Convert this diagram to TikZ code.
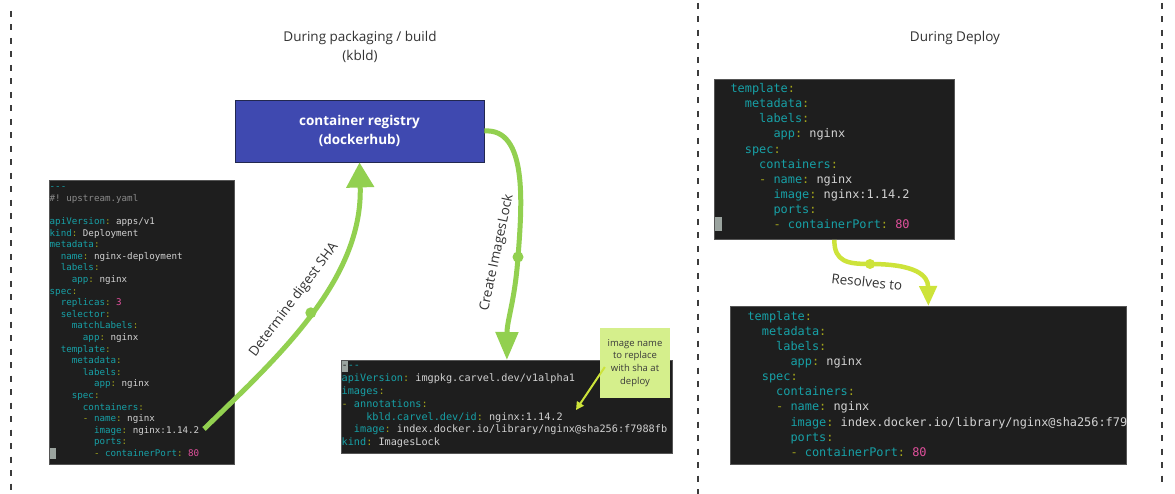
\documentclass[tikz,border=0pt]{standalone}
\usepackage{fontspec}
\setmainfont{Open Sans}
\newfontfamily\codefont{DejaVu Sans Mono}[Ligatures=TeXOff]
\usepackage{tikz}
\usetikzlibrary{arrows.meta, positioning}

\definecolor{codebg}{HTML}{1E1E1E}
\definecolor{boxedge}{HTML}{555555}
\definecolor{ykey}{HTML}{17A0A6}
\definecolor{ypun}{HTML}{A3A51B}
\definecolor{yval}{HTML}{D2D2D2}
\definecolor{ynum}{HTML}{E0509C}
\definecolor{ycom}{HTML}{8A8A8A}
\definecolor{cursorgrey}{HTML}{9BA49F}
\definecolor{regblue}{HTML}{3F49B0}
\definecolor{regedge}{HTML}{22284F}
\definecolor{flowgreen}{HTML}{92D050}
\definecolor{lime}{HTML}{CDE33A}
\definecolor{notefill}{HTML}{D5EF8C}
\definecolor{notetext}{HTML}{3A3A3A}
\definecolor{textgrey}{HTML}{333333}
\definecolor{sepgrey}{HTML}{3C3C3C}

% yaml 着色
\newcommand\ind[1]{\hspace*{#1\fontcharwd\font`x}}
\newcommand\yk[1]{\textcolor{ykey}{#1}\textcolor{ypun}{:}}
\newcommand\yv[1]{\textcolor{yval}{#1}}
\newcommand\yn[1]{\textcolor{ynum}{#1}}
\newcommand\yd{\textcolor{ypun}{-}}

\begin{document}
\begin{tikzpicture}[x=1pt, y=-1pt,
    codebox/.style={rectangle, fill=codebg, draw=boxedge, line width=0.8pt, anchor=north west, inner sep=0pt},
    code/.style={anchor=north west, inner sep=0pt, align=left, text=yval, execute at begin node=\frenchspacing},
    title/.style={font=\fontsize{13.5}{18.5}\selectfont, text=textgrey, inner sep=0pt},
    registry/.style={rectangle, fill=regblue, draw=regedge, line width=0.9pt, minimum width=249pt, minimum height=62pt, align=center, text=white, font=\bfseries\fontsize{13.5}{19}\selectfont},
    note/.style={rectangle, fill=notefill, minimum width=70pt, minimum height=70pt, align=center, inner sep=0pt, text=notetext, font=\fontsize{9.5}{12.7}\selectfont},
    flow/.style={draw=flowgreen, line width=5pt},
    dot/.style={circle, fill=#1, minimum size=11pt, inner sep=0pt},
    lbl/.style={text=textgrey, font=\fontsize{13.5}{18}\selectfont, inner sep=0pt},
    sepline/.style={draw=sepgrey, line width=1.8pt, dash pattern=on 6pt off 7.5pt},
]
    \fill[white] (0,0) rectangle (1175,494);
    \useasboundingbox (0,0) rectangle (1175,494);

    % 三条分隔虚线
    \foreach \x/\a/\b in {11/11/492, 698/3/494, 1162/3/482} {
        \draw[sepline] (\x,\a) -- (\x,\b);
    }

    % 标题
    \node[title] (buildTitle) at (360,38) {During packaging / build};
    \node[title, below=5.5pt of buildTitle] (kbldTitle) {(kbld)};
    \node[title] (deployTitle) at (955,38) {During Deploy};

    % 镜像仓库
    \node[registry] (registry) at (359.5,131) {container registry\\(dockerhub)};

    % 左边 upstream.yaml
    \node[codebox, minimum width=185pt, minimum height=284pt] (upstream) at (49,180) {};
    \fill[cursorgrey] (50,447.5) rectangle (55.5,459);
    \node[code, font=\codefont\fontsize{9.2}{11.6}\selectfont] (upstreamTxt) at (49.5,181.4) {%
        \strut\textcolor{ykey}{---}\\
        \textcolor{ycom}{\#! upstream.yaml}\\
        \strut\\
        \yk{apiVersion} \yv{apps/v1}\\
        \yk{kind} \yv{Deployment}\\
        \yk{metadata}\\
        \ind{2}\yk{name} \yv{nginx-deployment}\\
        \ind{2}\yk{labels}\\
        \ind{4}\yk{app} \yv{nginx}\\
        \yk{spec}\\
        \ind{2}\yk{replicas} \yn{3}\\
        \ind{2}\yk{selector}\\
        \ind{4}\yk{matchLabels}\\
        \ind{6}\yk{app} \yv{nginx}\\
        \ind{2}\yk{template}\\
        \ind{4}\yk{metadata}\\
        \ind{6}\yk{labels}\\
        \ind{8}\yk{app} \yv{nginx}\\
        \ind{4}\yk{spec}\\
        \ind{6}\yk{containers}\\
        \ind{6}\yd\ \yk{name} \yv{nginx}\\
        \ind{8}\yk{image} \yv{nginx:1.14.2}\\
        \ind{8}\yk{ports}\\
        \ind{8}\yd\ \yk{containerPort} \yn{80}};
    \coordinate (upImg) at (204,429);

    % 中间 ImagesLock
    \node[codebox, minimum width=331pt, minimum height=93pt] (lockfile) at (341,360) {};
    \fill[cursorgrey] (341.5,360.5) rectangle (347.5,371.5);
    \begin{scope}
        \clip (lockfile.south west) rectangle (lockfile.north east);
        \node[code, font=\codefont\fontsize{10.2}{12.8}\selectfont] (lockTxt) at (341.5,359.7) {%
            \strut\textcolor{codebg}{-}\textcolor{ykey}{--}\\
            \yk{apiVersion} \yv{imgpkg.carvel.dev/v1alpha1}\\
            \yk{images}\\
            \yd\ \yk{annotations}\\
            \ind{4}\yk{kbld.carvel.dev/id} \yv{nginx:1.14.2}\\
            \ind{2}\yk{image} \yv{index.docker.io/library/nginx@sha256:f7988fb}\\
            \yk{kind} \yv{ImagesLock}};
    \end{scope}
    \coordinate (kbldEnd) at (576,410);

    % 右上 部署前
    \node[codebox, minimum width=240pt, minimum height=160pt] (tplBefore) at (714,79) {};
    \fill[cursorgrey] (715,217) rectangle (722,231.5);
    \node[code, font=\codefont\fontsize{11.9}{15.1}\selectfont] (beforeTxt) at (716,81.9) {%
        \strut\ind{2}\yk{template}\\
        \ind{4}\yk{metadata}\\
        \ind{6}\yk{labels}\\
        \ind{8}\yk{app} \yv{nginx}\\
        \ind{4}\yk{spec}\\
        \ind{6}\yk{containers}\\
        \ind{6}\yd\ \yk{name} \yv{nginx}\\
        \ind{8}\yk{image} \yv{nginx:1.14.2}\\
        \ind{8}\yk{ports}\\
        \ind{8}\yd\ \yk{containerPort} \yn{80}};

    % 右下 部署后
    \node[codebox, minimum width=396pt, minimum height=158pt] (tplAfter) at (730,306) {};
    \begin{scope}
        \clip (tplAfter.south west) rectangle (tplAfter.north east);
        \node[code, font=\codefont\fontsize{11.9}{15.1}\selectfont] (afterTxt) at (733,309.6) {%
            \strut\ind{2}\yk{template}\\
            \ind{4}\yk{metadata}\\
            \ind{6}\yk{labels}\\
            \ind{8}\yk{app} \yv{nginx}\\
            \ind{4}\yk{spec}\\
            \ind{6}\yk{containers}\\
            \ind{6}\yd\ \yk{name} \yv{nginx}\\
            \ind{8}\yk{image} \yv{index.docker.io/library/nginx@sha256:f7988fb}\\
            \ind{8}\yk{ports}\\
            \ind{8}\yd\ \yk{containerPort} \yn{80}};
    \end{scope}

    % 便签
    \node[note] (hint) at (635,363) {image name\\to replace\\with sha at\\deploy};
    \draw[draw=lime, line width=2pt, -{Triangle[length=8pt,width=8pt]}] ([shift={(5,4)}]hint.west) -- (kbldEnd);

    % 箭头
    \draw[flow, -{Triangle[length=25pt,width=27pt]}] (upImg) .. controls (278,357) and (363,280) .. (registry.south)
        node[dot=flowgreen, pos=0.5] (dotA) {};
    \draw[flow, -{Triangle[length=28pt,width=22pt]}] (registry.east) .. controls (528,128) and (522,205) .. (518,257)
        node[dot=flowgreen] (dotB) {} .. controls (515,300) and (507,320) .. (lockfile.north);
    \draw[flow, draw=lime, line width=4.5pt, -{Triangle[length=20pt,width=17pt]}] (tplBefore.south) .. controls (834,262) and (848,264) .. (870,264)
        node[dot=lime, minimum size=10pt] (dotC) {} .. controls (915,264) and (928,275) .. (tplAfter.north);

    % 箭头文字
    \node[lbl, rotate=53] (shaLbl) at (294,300) {Determine digest SHA};
    \node[lbl, rotate=78] (lockLbl) at (497,253) {Create ImagesLock};
    \node[lbl, rotate=-6] (resolveLbl) at (867,282) {Resolves to};
\end{tikzpicture}
\end{document}
